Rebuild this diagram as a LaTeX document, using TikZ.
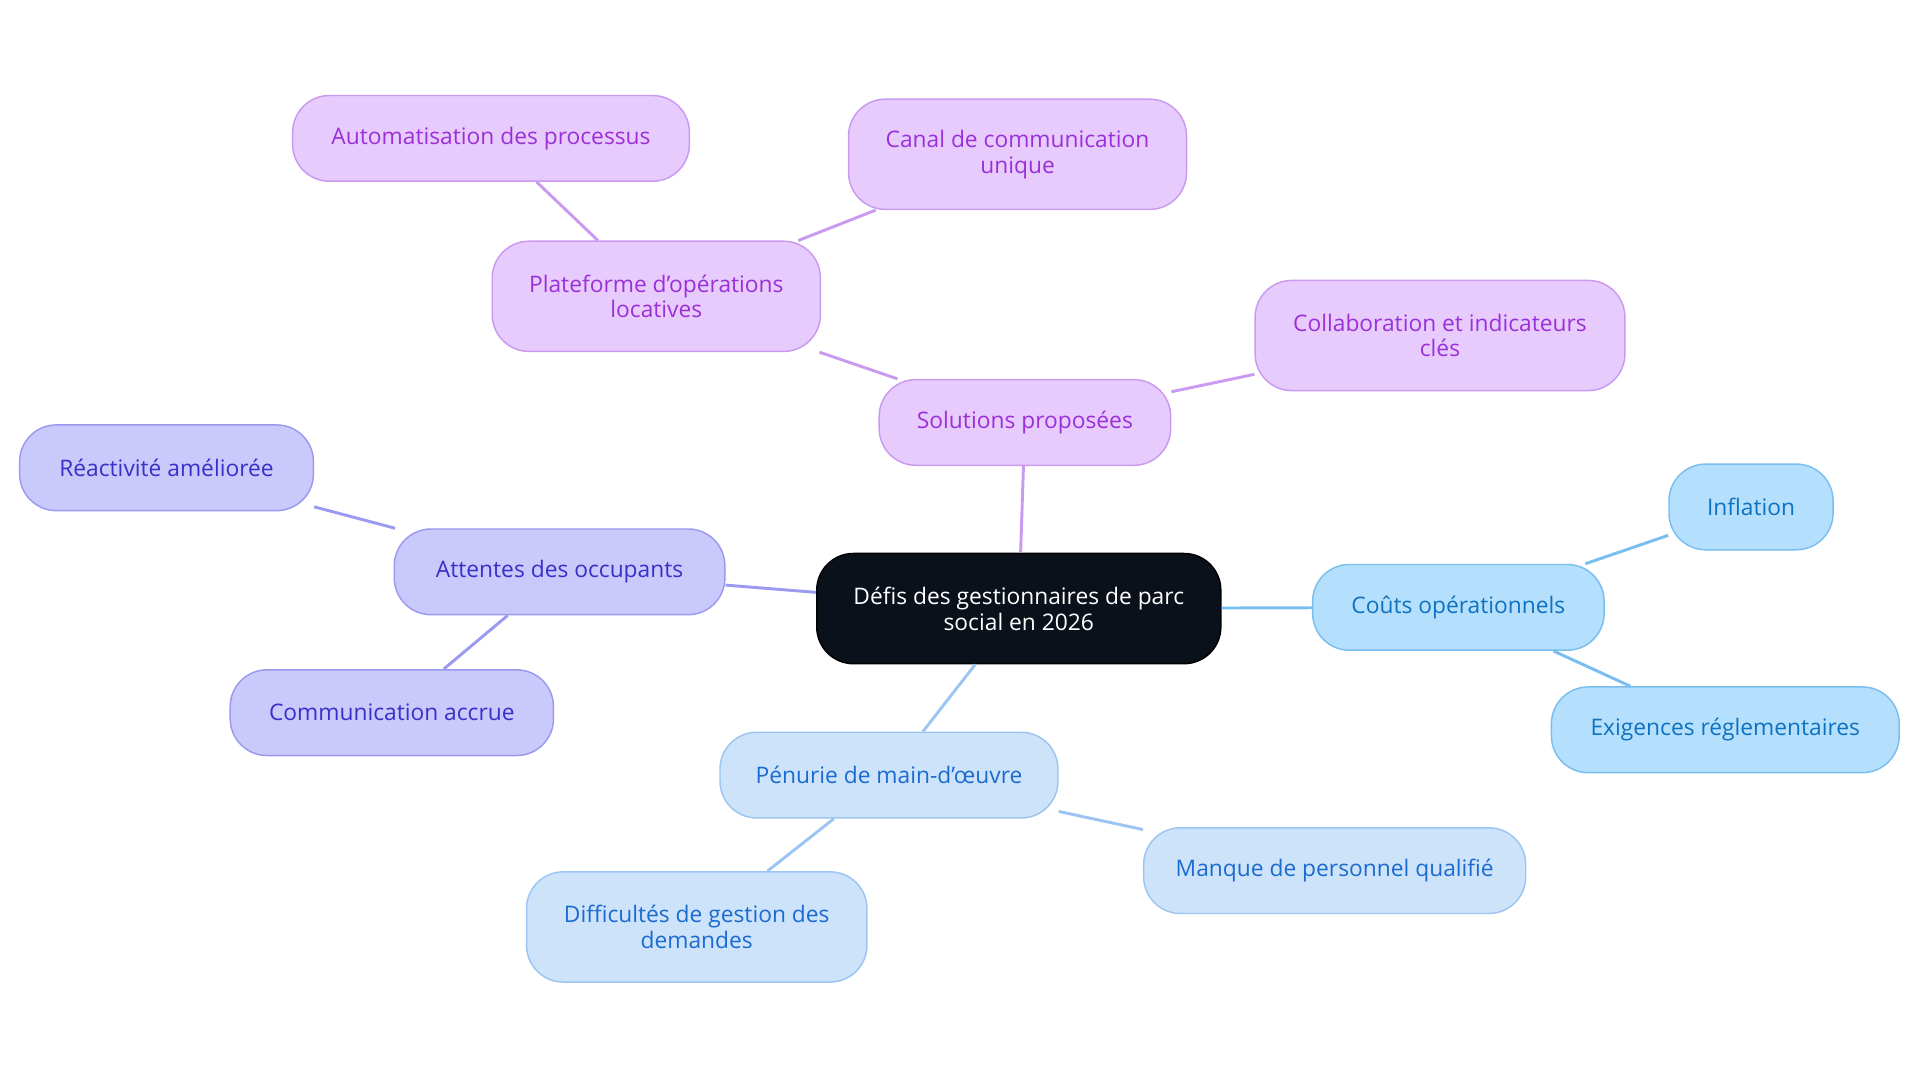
\documentclass[tikz,border=0pt]{standalone}
\usepackage{fontspec}
\setmainfont{Open Sans}
\definecolor{purpfill}{HTML}{E8CBFD}\definecolor{purpline}{HTML}{C99AF0}\definecolor{purptext}{HTML}{9B30D9}
\definecolor{indfill}{HTML}{C9C9FB}\definecolor{indline}{HTML}{9A9AF0}\definecolor{indtext}{HTML}{3B2FC9}
\definecolor{bluefill}{HTML}{CCE3FA}\definecolor{blueline}{HTML}{9CC5F2}\definecolor{bluetext}{HTML}{1C6BD0}
\definecolor{skyfill}{HTML}{B5E0FD}\definecolor{skyline}{HTML}{79BEEF}\definecolor{skytext}{HTML}{0F72C0}
\definecolor{darkfill}{HTML}{0B111B}
\begin{document}
\begin{tikzpicture}[x=0.5pt,y=-0.5pt,
  box/.style={rounded corners=15pt, draw, line width=0.6pt, align=center, font=\fontsize{9.3}{10.5}\selectfont, inner sep=0pt},
  purp node/.style={box, fill=purpfill, draw=purpline, text=purptext},
  ind node/.style={box, fill=indfill, draw=indline, text=indtext},
  blue node/.style={box, fill=bluefill, draw=blueline, text=bluetext},
  sky node/.style={box, fill=skyfill, draw=skyline, text=skytext},
  main node/.style={box, fill=darkfill, draw=black, text=white}]
\useasboundingbox (0,0) rectangle (1568,884);

% centre
\node[main node, minimum width=165pt, minimum height=45pt] (c) at (832,497) {Défis des gestionnaires de parc\\social en 2026};

% solutions
\node[purp node, minimum width=119pt, minimum height=35pt] (s) at (837,345) {Solutions proposées};
\node[purp node, minimum width=134pt, minimum height=45pt] (s1) at (536,242) {Plateforme d’opérations\\locatives};
\node[purp node, minimum width=162pt, minimum height=35pt] (s11) at (401,113) {Automatisation des processus};
\node[purp node, minimum width=138pt, minimum height=45pt] (s12) at (831,126) {Canal de communication\\unique};
\node[purp node, minimum width=151pt, minimum height=45pt] (s2) at (1176,274) {Collaboration et indicateurs\\clés};

% occupants
\node[ind node, minimum width=135pt, minimum height=35pt] (o) at (457,467) {Attentes des occupants};
\node[ind node, minimum width=120pt, minimum height=35pt] (o1) at (136,382) {Réactivité améliorée};
\node[ind node, minimum width=132pt, minimum height=35pt] (o2) at (320,582) {Communication accrue};

% couts
\node[sky node, minimum width=119pt, minimum height=35pt] (k) at (1191,496) {Coûts opérationnels};
\node[sky node, minimum width=67pt, minimum height=35pt] (k1) at (1430,414) {Inflation};
\node[sky node, minimum width=142pt, minimum height=35pt] (k2) at (1409,596) {Exigences réglementaires};

% penurie
\node[blue node, minimum width=138pt, minimum height=35pt] (p) at (726,633) {Pénurie de main-d’œuvre};
\node[blue node, minimum width=156pt, minimum height=35pt] (p1) at (1090,711) {Manque de personnel qualifié};
\node[blue node, minimum width=139pt, minimum height=45pt] (p2) at (569,757) {Difficultés de gestion des\\demandes};

\begin{scope}[line width=1.2pt]
\draw[purpline] (c) -- (s) (s) -- (s1) (s1) -- (s11) (s1) -- (s12) (s) -- (s2);
\draw[indline] (c) -- (o) (o) -- (o1) (o) -- (o2);
\draw[skyline] (c) -- (k) (k) -- (k1) (k) -- (k2);
\draw[blueline] (c) -- (p) (p) -- (p1) (p) -- (p2);
\end{scope}
\end{tikzpicture}
\end{document}
